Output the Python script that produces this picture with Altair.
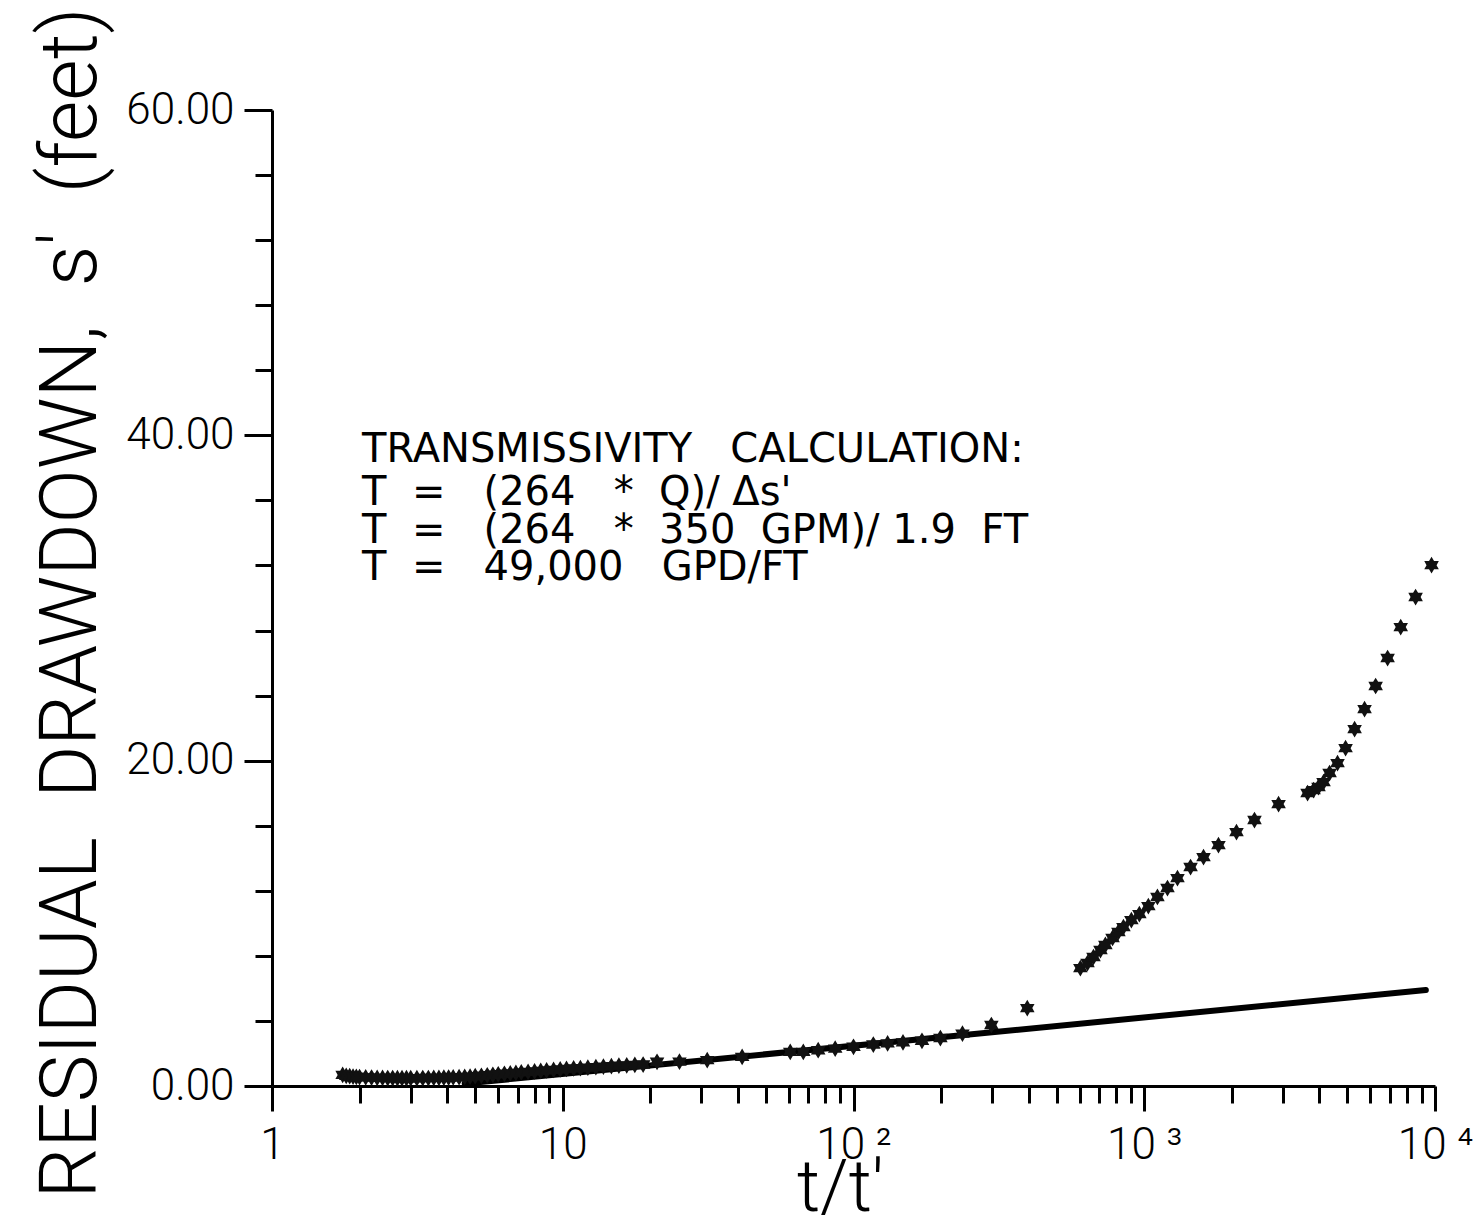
import altair as alt
import pandas as pd

# ---- data ----
obs_x = [1.75, 1.8, 1.85, 1.9, 1.95, 2.0, 2.1, 2.2, 2.3, 2.4, 2.5, 2.6, 2.7, 2.8, 2.9, 3.0,
         3.15, 3.3, 3.45, 3.6, 3.75, 3.9, 4.05, 4.2, 4.4, 4.6, 4.8, 5.0, 5.25, 5.5, 5.75, 6.0,
         6.3, 6.6, 6.9, 7.2, 7.6, 8.0, 8.4, 8.8, 9.3, 9.8, 10.3, 10.9, 11.5, 12.2, 13.0, 13.8,
         14.7, 15.6, 16.6, 17.7, 18.9, 21.1, 25.2, 31.4, 41.4, 60.6, 67.2, 75.6, 86.5, 100,
         117, 131, 148, 172, 199, 237, 298, 396,
         603, 638, 669, 707, 735, 778, 815, 848, 903, 962, 1033, 1110, 1202, 1301, 1443,
         1599, 1800, 2076, 2394, 2897, 3645, 3822, 3975, 4137, 4339, 4621, 4925, 5290,
         5724, 6249, 6870, 7622, 8575, 9730]
obs_y = [0.68, 0.62, 0.60, 0.58, 0.56, 0.55, 0.53, 0.52, 0.50, 0.50, 0.49, 0.49, 0.48, 0.48, 0.48, 0.48,
         0.48, 0.49, 0.49, 0.50, 0.50, 0.51, 0.52, 0.53, 0.54, 0.56, 0.58, 0.60, 0.63, 0.66, 0.69, 0.72,
         0.75, 0.78, 0.81, 0.84, 0.87, 0.90, 0.93, 0.96, 0.99, 1.02, 1.05, 1.08, 1.10, 1.13, 1.16, 1.19,
         1.22, 1.25, 1.27, 1.30, 1.32, 1.49, 1.50, 1.59, 1.79, 2.10, 2.10, 2.20, 2.30, 2.41,
         2.55, 2.62, 2.68, 2.78, 2.95, 3.22, 3.75, 4.79,
         7.25, 7.56, 7.93, 8.36, 8.67, 9.10, 9.47, 9.77, 10.20, 10.57, 11.06, 11.62, 12.17, 12.78, 13.46,
         14.07, 14.81, 15.61, 16.35, 17.33, 18.01, 18.19, 18.38, 18.68, 19.24, 19.85, 20.77, 21.94,
         23.17, 24.59, 26.31, 28.21, 30.06, 32.02]

fit_x = [4.6, 9300]
fit_y = [0.15, 5.9]

x_tick_values = [1, 2, 3, 4, 5, 6, 7, 8, 9,
                 10, 20, 30, 40, 50, 60, 70, 80, 90,
                 100, 200, 300, 400, 500, 600, 700, 800, 900,
                 1000, 2000, 3000, 4000, 5000, 6000, 7000, 8000, 9000, 10000]
y_tick_values = list(range(0, 61, 2))

NB = "\u00a0"
note_lines = [
    "TRANSMISSIVITY" + NB * 3 + "CALCULATION:",
    "T" + NB * 2 + "=" + NB * 3 + "(264" + NB * 3 + "*" + NB * 2 + "Q)/" + NB + "\u0394s'",
    "T" + NB * 2 + "=" + NB * 3 + "(264" + NB * 3 + "*" + NB * 2 + "350" + NB * 2 + "GPM)/" + NB + "1.9" + NB * 2 + "FT",
    "T" + NB * 2 + "=" + NB * 3 + "49,000" + NB * 3 + "GPD/FT",
]
note_x = [2.04, 2.04, 2.04, 2.04]
note_y = [38.35, 35.71, 33.37, 31.10]

y_title = "RESIDUAL" + NB * 2 + "DRAWDOWN," + NB * 2 + "s'" + NB * 2 + "(feet)"

# ---- build ----
obs = pd.DataFrame({"x": obs_x, "y": obs_y})
fit = pd.DataFrame({"x": fit_x, "y": fit_y})
notes = pd.DataFrame({"x": note_x, "y": note_y, "t": note_lines})

FONT = "Roboto"
NOTE_FONT = "DejaVu Sans"
STAR = ("M0,-1L0.3,-0.5L0.87,-0.5L0.6,0L0.87,0.5L0.3,0.5L0,1L-0.3,0.5"
        "L-0.87,0.5L-0.6,0L-0.87,-0.5L-0.3,-0.5Z")

x_scale = alt.Scale(type="log", domain=[1, 10000], nice=False)
y_scale = alt.Scale(domain=[0, 60], nice=False, zero=False)

x_axis = alt.Axis(
    values=x_tick_values,
    labelExpr=("datum.value == 1 ? '1' : datum.value == 10 ? '10' : datum.value == 100 ? '10 \u00b2' : "
               "datum.value == 1000 ? '10 \u00b3' : datum.value == 10000 ? '10 \u2074' : ''"),
    tickSize={"condition": {"test": "indexof([1,10,100,1000,10000], datum.value) >= 0", "value": 25},
              "value": 17},
    tickWidth=3, tickColor="black", domainWidth=3, domainColor="black",
    labelFont=FONT, labelFontSize=44, labelFontWeight=300, labelColor="black", labelPadding=12,
    labelFlush=False, labelOverlap=False, labelBound=False, grid=False,
    title="t/t'", titleFont=FONT, titleFontSize=72, titleFontWeight=300, titleColor="black",
    titleX=568, titleY=124, titleAlign="center", titleBaseline="alphabetic",
)
y_axis = alt.Axis(
    values=y_tick_values,
    labelExpr="datum.value % 20 == 0 ? format(datum.value, '.2f') : ''",
    tickSize={"condition": {"test": "datum.value % 20 == 0", "value": 28}, "value": 17},
    tickWidth=3, tickColor="black", domainWidth=3, domainColor="black",
    labelFont=FONT, labelFontSize=44, labelFontWeight=300, labelColor="black", labelPadding=10,
    labelFlush=False, labelOverlap=False, labelBound=False, grid=False,
    title=y_title, titleFont=FONT, titleFontSize=80, titleFontWeight=300, titleColor="black",
    titleAngle=270, titleAlign="left", titleBaseline="alphabetic", titleX=-177, titleY=1088,
)

points = alt.Chart(obs).mark_point(
    shape=STAR, filled=True, size=280, color="#111111", opacity=1, strokeWidth=0
).encode(
    x=alt.X("x:Q", scale=x_scale, axis=x_axis),
    y=alt.Y("y:Q", scale=y_scale, axis=y_axis),
)

line = alt.Chart(fit).mark_line(color="black", strokeWidth=6, strokeCap="round").encode(
    x=alt.X("x:Q", scale=x_scale),
    y=alt.Y("y:Q", scale=y_scale),
)

text = alt.Chart(notes).mark_text(
    align="left", baseline="alphabetic", font=NOTE_FONT, fontSize=40, color="black"
).encode(
    x=alt.X("x:Q", scale=x_scale),
    y=alt.Y("y:Q", scale=y_scale),
    text="t:N",
)

chart = alt.layer(line, points, text).properties(
    width=1163, height=976,
    padding={"left": 272, "top": 110, "right": 41, "bottom": 141},
    autosize=alt.AutoSizeParams(type="none"),
    background="white",
).configure_view(strokeWidth=0)

chart.save("out.html", embed_options={"renderer": "svg", "actions": False})
